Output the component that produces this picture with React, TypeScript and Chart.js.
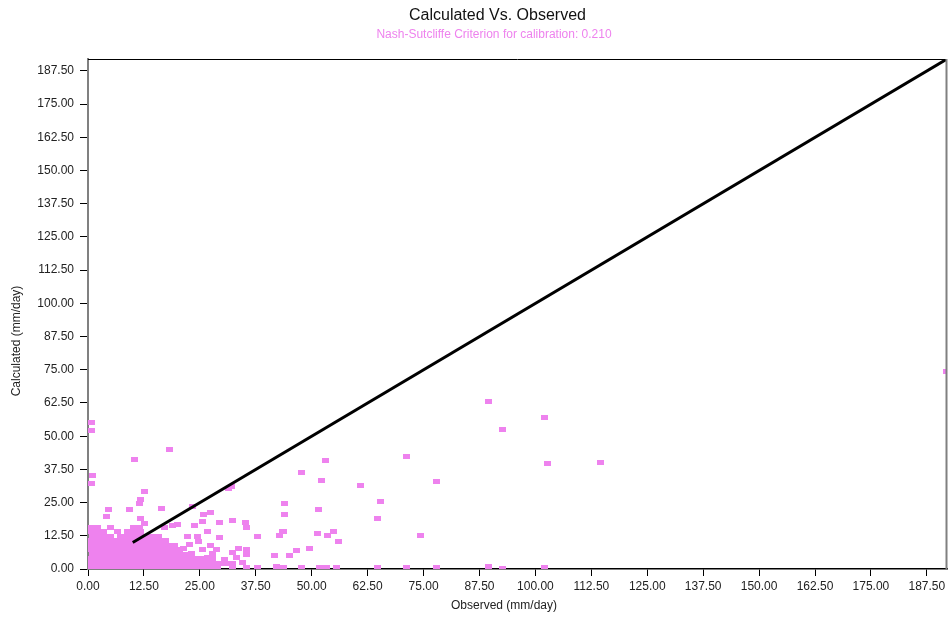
import React, { useEffect, useRef } from "react";
import { Chart, registerables } from "chart.js";

Chart.register(...registerables);

const chartTitle = "Calculated Vs. Observed";
const chartSubtitle = "Nash-Sutcliffe Criterion for calibration: 0.210";
const xAxisLabel = "Observed (mm/day)";
const yAxisLabel = "Calculated (mm/day)";
const axisMin = 0;
const axisMax = 192;
const tickStep = 12.5;
const lineStart = 10;
const lineEnd = 192;

// dense cluster near the origin: [calculated, observed values in that row]
const clusterRows: [number, number[]][] = [
  [0.4, [0.3, 1.7, 3.1, 4.6, 6.0, 7.4, 8.9, 10.3, 11.8, 13.2, 14.6, 16.1, 17.5, 19.0, 20.4, 21.8, 23.3, 24.7, 26.1, 27.6, 29.0]],
  [2.1, [0.8, 2.2, 3.7, 5.1, 6.6, 8.0, 9.5, 10.9, 12.3, 13.8, 15.2, 16.7, 18.1, 19.5, 21.0, 22.4, 23.9, 25.3, 26.7, 28.2, 29.3]],
  [3.8, [0.4, 1.9, 3.3, 4.8, 6.2, 7.6, 9.1, 10.5, 12.0, 13.4, 14.8, 16.3, 17.7, 19.2, 20.6, 22.0, 23.5, 24.9, 26.3, 27.8]],
  [5.5, [0.9, 2.3, 3.8, 5.2, 6.7, 8.1, 9.6, 11.0, 12.4, 13.9, 15.3, 16.8, 18.2, 19.6, 21.1, 22.6]],
  [7.2, [0.5, 1.9, 3.4, 4.8, 6.3, 7.7, 9.1, 10.6, 12.0, 13.5, 14.9, 16.3, 17.8, 19.2, 20.5]],
  [8.9, [0.8, 2.3, 3.7, 5.2, 6.6, 8.0, 9.5, 10.9, 12.4, 13.8, 15.3, 16.6, 18.0, 19.4]],
  [10.6, [0.4, 1.8, 3.3, 4.7, 6.2, 7.6, 9.1, 10.5, 11.9, 13.4, 14.8, 16.0, 17.3]],
  [12.3, [0.9, 2.3, 3.8, 5.0, 7.2, 8.6, 10.1, 11.5, 12.9, 14.3, 15.8]],
  [14.0, [0.5, 2.0, 3.4, 6.5, 8.8, 10.4, 11.8]],
  [15.7, [0.8, 2.2, 5.1, 10.2, 11.6]],
];

// scattered points close to the cluster: [observed, calculated]
const scatterLow: [number, number][] = [
  [4.5, 22.3], [4.2, 19.6], [9.2, 22.3], [16.5, 22.6], [11.8, 19.2], [12.7, 17.0],
  [17.0, 15.8], [18.8, 16.2], [20.1, 16.6], [23.7, 16.2], [25.9, 20.4], [27.3, 21.1],
  [25.7, 17.7], [29.5, 17.4], [32.2, 18.1], [35.3, 17.4], [35.5, 15.5], [37.8, 12.1],
  [26.8, 14.0], [22.3, 12.1], [24.4, 12.1], [24.6, 10.2], [29.5, 11.7], [43.4, 14.0],
  [42.7, 12.5], [27.3, 8.7], [25.5, 7.5], [28.8, 7.5], [27.9, 6.0], [33.7, 7.9],
  [32.4, 6.4], [35.5, 7.5], [35.5, 5.3], [33.3, 4.5], [34.6, 2.3], [32.2, 1.9],
  [41.6, 4.9], [45.1, 4.9], [46.7, 6.8], [49.6, 7.9], [23.2, 5.7], [26.6, 4.2],
  [24.4, 2.6], [30.6, 3.6], [31.0, 2.0], [21.3, 7.9], [22.6, 9.3],
  [32.2, 0.4], [35.5, 0.5], [37.8, 0.4], [42.2, 1.0], [43.6, 0.4], [47.8, 0.4],
  [51.8, 0.4], [53.4, 0.4], [55.6, 0.4], [64.6, 0.6], [71.3, 0.4], [77.8, 0.6],
  [89.6, 1.1], [92.7, 0.3], [102.1, 0.7],
];

// outlying points: [observed, calculated]
const scatterHigh: [number, number][] = [
  [0.7, 55.0], [0.7, 52.0], [0.9, 35.3], [0.7, 32.3], [10.5, 41.1], [18.3, 44.9],
  [12.7, 29.1], [11.7, 26.0], [11.4, 24.5], [31.3, 30.2], [32.0, 30.9], [23.3, 23.4],
  [47.8, 36.2], [53.0, 40.8], [52.1, 33.2], [61.0, 31.3], [71.3, 42.3], [77.8, 32.8],
  [65.3, 25.3], [44.0, 24.5], [44.0, 20.4], [51.6, 22.3], [64.6, 19.2], [43.6, 14.0],
  [51.4, 13.2], [53.6, 12.8], [54.8, 14.0], [55.9, 10.2], [74.4, 12.5],
  [89.6, 63.0], [102.1, 57.0], [92.7, 52.5], [102.8, 39.6], [114.6, 40.0], [191.8, 74.3],
];

const FONT = "'Liberation Sans', Arial, sans-serif";

const frameAndTitles = {
  id: "frameAndTitles",
  afterDraw(chart: any) {
    const { ctx, chartArea } = chart;
    ctx.save();
    ctx.lineWidth = 1;
    ctx.strokeStyle = "#000000";
    ctx.beginPath();
    ctx.moveTo(chartArea.left, chartArea.top + 0.5);
    ctx.lineTo(chartArea.right, chartArea.top + 0.5);
    ctx.stroke();
    ctx.strokeStyle = "#808080";
    ctx.lineWidth = 2;
    ctx.beginPath();
    ctx.moveTo(chartArea.right - 0.5, chartArea.top);
    ctx.lineTo(chartArea.right - 0.5, chartArea.bottom);
    ctx.stroke();

    ctx.textAlign = "center";
    ctx.textBaseline = "middle";
    ctx.fillStyle = "#111111";
    ctx.font = `16px ${FONT}`;
    ctx.fillText(chartTitle, 497.5, 16);
    ctx.fillStyle = "#EE82EE";
    ctx.font = `12px ${FONT}`;
    ctx.fillText(chartSubtitle, 494, 35);
    ctx.fillStyle = "#222222";
    ctx.fillText(xAxisLabel, 504, 606);
    ctx.translate(17, 341);
    ctx.rotate(-Math.PI / 2);
    ctx.fillText(yAxisLabel, 0, 0);
    ctx.restore();
  },
};

export default function App() {
  const ref = useRef<HTMLCanvasElement | null>(null);

  useEffect(() => {
    if (!ref.current) return;
    const marker = document.createElement("canvas");
    marker.width = 7;
    marker.height = 5;
    const mctx = marker.getContext("2d");
    if (mctx) {
      mctx.fillStyle = "#EE82EE";
      mctx.fillRect(0, 0, 7, 5);
    }

    const points = [
      ...clusterRows.flatMap(([y, xs]) => xs.map((x) => ({ x, y }))),
      ...scatterLow.map(([x, y]) => ({ x, y })),
      ...scatterHigh.map(([x, y]) => ({ x, y })),
    ];

    const chart = new Chart(ref.current, {
      type: "scatter",
      data: {
        datasets: [
          {
            type: "line",
            data: [
              { x: lineStart, y: lineStart },
              { x: lineEnd, y: lineEnd },
            ],
            borderColor: "#000000",
            borderWidth: 3,
            pointRadius: 0,
            fill: false,
          } as any,
          {
            data: points,
            pointStyle: marker as any,
            pointRadius: 3,
            backgroundColor: "#EE82EE",
            borderColor: "#EE82EE",
            clip: 0,
          } as any,
        ],
      },
      options: {
        responsive: false,
        animation: false,
        layout: { autoPadding: false, padding: { top: 59, right: 1, bottom: 0, left: 0 } },
        plugins: {
          legend: { display: false },
          tooltip: { enabled: false },
          title: { display: false },
          subtitle: { display: false },
        },
        scales: {
          x: {
            type: "linear",
            min: axisMin,
            max: axisMax,
            afterFit: (s: any) => {
              s.height = 50;
              s.paddingLeft = 0;
              s.paddingRight = 0;
            },
            ticks: {
              stepSize: tickStep,
              includeBounds: false,
              autoSkip: false,
              maxRotation: 0,
              padding: 3,
              color: "#222222",
              font: { family: FONT, size: 12 },
              callback: (v: any) => Number(v).toFixed(2),
            },
            grid: { drawOnChartArea: false, drawTicks: true, tickLength: 7, tickColor: "#000000" },
            border: { display: true, color: "#000000", width: 1.5 },
          },
          y: {
            type: "linear",
            min: axisMin,
            max: axisMax,
            afterFit: (s: any) => {
              s.width = 88;
              s.paddingTop = 0;
              s.paddingBottom = 0;
            },
            ticks: {
              stepSize: tickStep,
              includeBounds: false,
              autoSkip: false,
              padding: 6,
              color: "#222222",
              font: { family: FONT, size: 12 },
              callback: (v: any) => Number(v).toFixed(2),
            },
            grid: { drawOnChartArea: false, drawTicks: true, tickLength: 8, tickColor: "#000000" },
            border: { display: true, color: "#808080", width: 2 },
          },
        },
      },
      plugins: [frameAndTitles],
    });
    return () => chart.destroy();
  }, []);

  return (
    <canvas
      ref={ref}
      width={948}
      height={619}
      style={{ position: "fixed", left: 0, top: 0, width: 948, height: 619, background: "#ffffff" }}
    />
  );
}
